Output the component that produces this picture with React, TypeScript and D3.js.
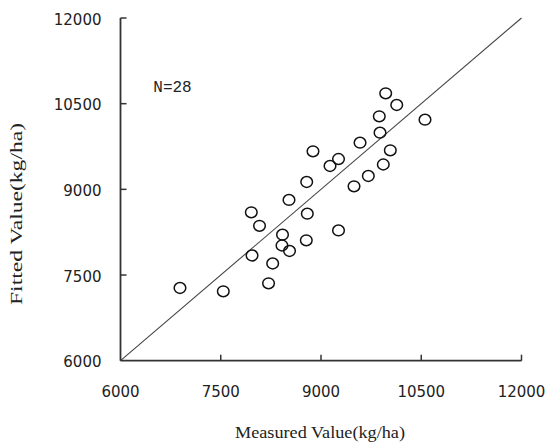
import React from "react";
import * as d3 from "d3";

const measured: number[] = [
  6890, 7538, 7957, 8080, 7968, 8215, 8277, 8424, 8416, 8529, 8521, 8786, 8795, 8780,
  9262, 8880, 9135, 9262, 9494, 9708, 9932, 10037, 9968, 10133, 9872, 10556, 9883, 9584,
];
const fitted: number[] = [
  7273, 7215, 8598, 8362, 7842, 7355, 7702, 8206, 8017, 7921, 8814, 9129, 8574, 8108,
  8280, 9666, 9409, 9531, 9053, 9234, 9435, 9684, 10682, 10477, 10279, 10219, 9992, 9817,
];
const xTicks: number[] = [6000, 7500, 9000, 10500, 12000];
const yTicks: number[] = [6000, 7500, 9000, 10500, 12000];
const domain: [number, number] = [6000, 12000];
const xTitle = "Measured Value(kg/ha)";
const yTitle = "Fitted Value(kg/ha)";
const annotation = "N=28";

export default function App() {
  const W = 546;
  const H = 444;
  const x = d3.scaleLinear().domain(domain).range([120.5, 521.5]);
  const y = d3.scaleLinear().domain(domain).range([360.7, 18]);
  const axisColor = "#333";
  const textColor = "#222";
  const tickFont = "'DejaVu Sans', Verdana, sans-serif";
  const titleFont = "'Liberation Serif', 'Times New Roman', serif";
  const line = d3.line<number>().x((d) => x(d)).y((d) => y(d));

  return (
    <svg
      width={W}
      height={H}
      style={{ position: "absolute", left: 0, top: 0, background: "#fff" }}
    >
      {/* diagonal 1:1 line */}
      <path d={line(domain) || ""} stroke="#444" strokeWidth={1.1} fill="none" />

      {/* axes */}
      <line x1={x(6000)} x2={x(6000)} y1={y(12000)} y2={y(6000)} stroke={axisColor} strokeWidth={1.8} />
      <line x1={x(6000)} x2={x(12000)} y1={y(6000)} y2={y(6000)} stroke={axisColor} strokeWidth={1.8} />

      {/* x ticks */}
      {xTicks.map((t) => (
        <g key={"xt" + t}>
          {t !== 6000 && (
            <line x1={x(t)} x2={x(t)} y1={y(6000)} y2={y(6000) - 6} stroke={axisColor} strokeWidth={1.5} />
          )}
          <text
            x={x(t)}
            y={397}
            textAnchor="middle"
            fontFamily={tickFont}
            fontSize={15}
            fill={textColor}
          >
            {t}
          </text>
        </g>
      ))}

      {/* y ticks */}
      {yTicks.map((t) => (
        <g key={"yt" + t}>
          {t !== 6000 && (
            <line x1={x(6000)} x2={x(6000) + 6} y1={y(t)} y2={y(t)} stroke={axisColor} strokeWidth={1.5} />
          )}
          <text
            x={101.5}
            y={y(t) + 6.5}
            textAnchor="end"
            fontFamily={tickFont}
            fontSize={15}
            fill={textColor}
          >
            {t}
          </text>
        </g>
      ))}

      {/* points */}
      {measured.map((m, i) => (
        <ellipse
          key={"p" + i}
          cx={x(m)}
          cy={y(fitted[i])}
          rx={5.8}
          ry={5.4}
          fill="none"
          stroke="#111"
          strokeWidth={1.5}
        />
      ))}

      {/* annotation */}
      <text x={153.3} y={91.5} fontFamily="'Liberation Mono', 'Courier New', monospace" fontSize={16} fill={textColor}>
        {annotation}
      </text>

      {/* titles */}
      <text
        x={320}
        y={438}
        textAnchor="middle"
        fontFamily={titleFont}
        fontSize={17}
        fill={textColor}
        textLength={170}
        lengthAdjust="spacingAndGlyphs"
      >
        {xTitle}
      </text>
      <text
        transform="translate(22,214) rotate(-90)"
        textAnchor="middle"
        fontFamily={titleFont}
        fontSize={17}
        fill={textColor}
        textLength={182}
        lengthAdjust="spacingAndGlyphs"
      >
        {yTitle}
      </text>
    </svg>
  );
}
